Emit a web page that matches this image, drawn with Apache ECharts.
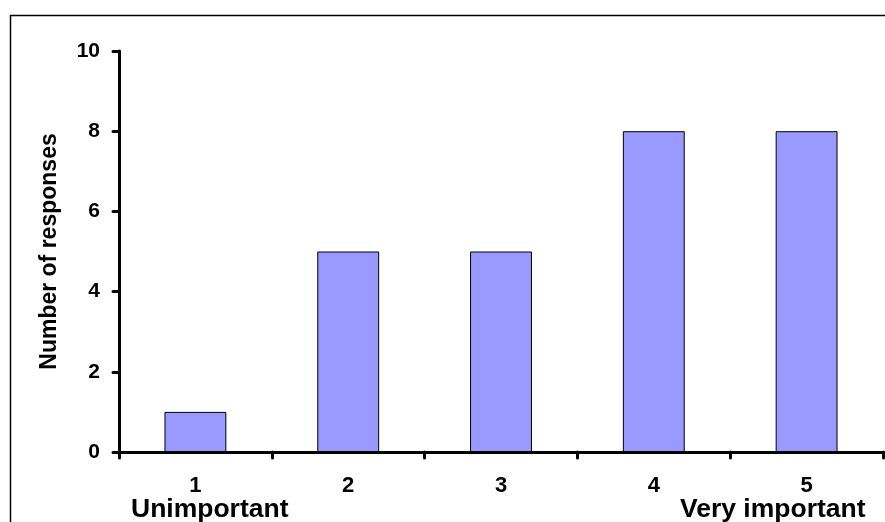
<!DOCTYPE html>
<html><head><meta charset="utf-8">
<script src="https://cdn.jsdelivr.net/npm/echarts@6/dist/echarts.min.js"></script>
<style>html,body{margin:0;padding:0;background:#fff}#c{width:885px;height:522px}</style>
</head><body><div id="c"></div>
<script>
const categories = ['1','2','3','4','5'];
const responses = [1,5,5,8,8];
const yTicks = [0,2,4,6,8,10];
const yAxisTitle = 'Number of responses';
const lowEndLabel = 'Unimportant';
const highEndLabel = 'Very important';

const chart = echarts.init(document.getElementById('c'), null, {renderer:'canvas'});
const F = 'Liberation Sans, Arial, sans-serif';
chart.setOption({
  animation:false,
  backgroundColor:'#fff',
  grid:{left:119, top:51, right:2, bottom:70, containLabel:false},
  xAxis:{
    type:'category', data:categories, boundaryGap:true,
    axisLine:{lineStyle:{color:'#000', width:3, cap:'round'}},
    axisTick:{show:true, alignWithLabel:false, length:6, lineStyle:{color:'#000', width:3, cap:'round'}},
    axisLabel:{color:'#000', fontFamily:F, fontWeight:'bold', fontSize:22, margin:23}
  },
  yAxis:{
    type:'value', min:yTicks[0], max:yTicks[yTicks.length-1], interval:2,
    name:yAxisTitle, nameLocation:'middle', nameGap:58, nameRotate:90,
    nameTextStyle:{color:'#000', fontFamily:F, fontWeight:'bold', fontSize:23},
    axisLine:{show:true, lineStyle:{color:'#000', width:3, cap:'round'}},
    axisTick:{show:true, length:6, lineStyle:{color:'#000', width:3, cap:'round'}},
    splitLine:{show:false},
    axisLabel:{color:'#000', fontFamily:F, fontWeight:'bold', fontSize:21, margin:19}
  },
  series:[{
    type:'bar', data:responses, barWidth:'40.5%',
    itemStyle:{color:'#9999FF', borderColor:'#000', borderWidth:1}
  }],
  graphic:[
    {type:'rect', left:8, top:13, shape:{width:1000, height:1000}, style:{fill:null, stroke:'#000', lineWidth:1.5}, silent:true},
    {type:'text', left:131, top:496, style:{text:lowEndLabel, fill:'#000', font:'bold 26.5px Liberation Sans, Arial, sans-serif'}},
    {type:'text', left:680, top:496, style:{text:highEndLabel, fill:'#000', font:'bold 26.5px Liberation Sans, Arial, sans-serif'}}
  ]
});
</script></body></html>
